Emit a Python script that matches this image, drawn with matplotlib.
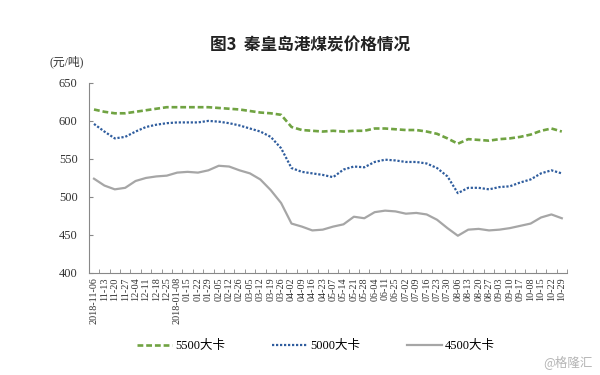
import matplotlib
matplotlib.use("Agg")
import matplotlib.pyplot as plt
from matplotlib.ticker import FixedLocator

plt.rcParams["font.family"] = ["Liberation Serif", "Noto Sans CJK SC"]

# weekly dates shown on the x axis
dates = [
    "2018-11-06", "11-13", "11-20", "11-27", "12-04", "12-11", "12-18", "12-25",
    "2018-01-08", "01-15", "01-22", "01-29", "02-05", "02-12", "02-26",
    "03-05", "03-12", "03-19", "03-26", "04-02", "04-09", "04-16", "04-23",
    "05-07", "05-14", "05-21", "05-28", "06-04", "06-11", "06-25",
    "07-02", "07-09", "07-16", "07-23", "07-30", "08-06", "08-13", "08-20",
    "08-27", "09-03", "09-10", "09-17", "10-08", "10-15", "10-22", "10-29",
]

# prices, yuan per ton
price_5500 = [
    615, 612, 610, 610, 612, 614, 616, 618, 618, 618, 618, 618, 617, 616, 615,
    613, 611, 610, 608, 592, 588, 587, 586, 587, 586, 587, 587, 590, 590, 589,
    588, 588, 586, 583, 577, 570, 576, 575, 574, 576, 577, 579, 582, 587, 590, 586,
]
price_5000 = [
    596, 586, 577, 579, 586, 592, 595, 597, 598, 598, 598, 600, 599, 597, 594,
    590, 586, 579, 564, 538, 533, 531, 529, 526, 536, 540, 539, 546, 549, 548,
    546, 546, 544, 538, 527, 505, 512, 512, 510, 513, 514, 519, 523, 531, 535, 531,
]
price_4500 = [
    524, 515, 510, 512, 521, 525, 527, 528, 532, 533, 532, 535, 541, 540, 535,
    531, 523, 509, 492, 465, 461, 456, 457, 461, 464, 474, 472, 480, 482, 481,
    478, 479, 477, 470, 459, 449, 457, 458, 456, 457, 459, 462, 465, 473, 477, 472,
]

series_names = ["5500大卡", "5000大卡", "4500大卡"]

fig = plt.figure(figsize=(6, 3.75), dpi=100)
ax = fig.add_axes([0.148, 0.272, 0.797, 0.507])

x = list(range(len(dates)))
ax.plot(x, price_5500, color="#70a342", lw=1.9, dashes=(2.2, 1.1),
        label=series_names[0])
ax.plot(x, price_5000, color="#2f5d9e", lw=1.6, dashes=(1.0, 0.8),
        label=series_names[1])
ax.plot(x, price_4500, color="#a6a6a6", lw=1.6, label=series_names[2])

ax.set_xlim(-0.5, len(dates) - 0.5)
ax.set_ylim(400, 650)
ax.set_yticks([400, 450, 500, 550, 600, 650])

ax.set_xticks(x)
ax.set_xticklabels(dates, rotation=90, fontsize=7.3, color="#333333")
ax.xaxis.set_minor_locator(FixedLocator([i - 0.5 for i in range(len(dates) + 1)]))
ax.tick_params(axis="x", which="major", length=0, pad=3)
ax.tick_params(axis="x", which="minor", length=3, direction="in", color="#888888")
ax.tick_params(axis="y", length=3, direction="in", color="#888888",
               labelsize=9, labelcolor="#333333", pad=8)

for side in ["top", "right"]:
    ax.spines[side].set_visible(False)
for side in ["left", "bottom"]:
    ax.spines[side].set_color("#888888")
    ax.spines[side].set_linewidth(0.8)

fig.text(0.516, 0.88, "图3  秦皇岛港煤炭价格情况", ha="center", va="center",
         fontsize=12, fontweight="semibold", family=["Noto Sans CJK SC"], color="#222222")
fig.text(0.083, 0.835, "(元/吨)", ha="left", va="center", fontsize=8.5,
         color="#333333")

fig.legend(loc="center", bbox_to_anchor=(0.527, 0.077), ncol=3, frameon=False,
           handlelength=2.8, columnspacing=3.8, handletextpad=0.2, fontsize=9)

fig.text(0.987, 0.035, "@格隆汇", ha="right", va="center", fontsize=9,
         color="#b5b5b5", family=["Noto Sans CJK SC"])

fig.savefig("out.png", dpi=100)
